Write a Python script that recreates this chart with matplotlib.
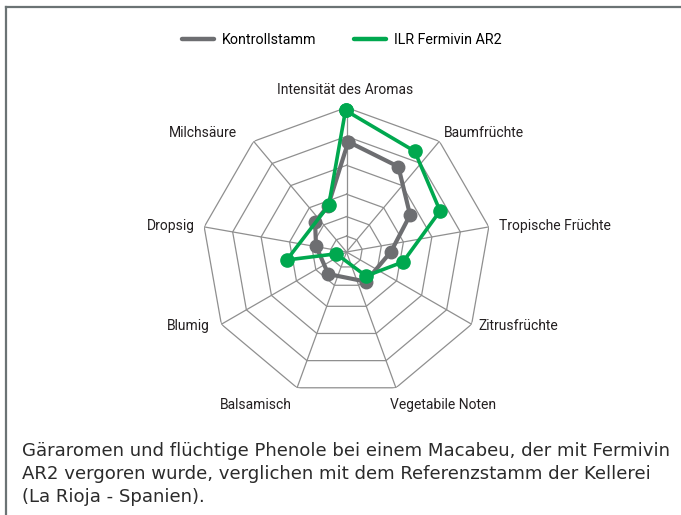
import numpy as np
import matplotlib
matplotlib.use("Agg")
import matplotlib.pyplot as plt
from matplotlib.lines import Line2D

# --- data ---
categories = ["Intensität des Aromas", "Baumfrüchte", "Tropische Früchte",
              "Zitrusfrüchte", "Vegetabile Noten", "Balsamisch", "Blumig",
              "Dropsig", "Milchsäure"]
grid_levels = [0.11, 0.245, 0.4, 0.6, 0.8, 1.0]

# the points in the source do not sit exactly on the spokes,
# so each series keeps its own angles (degrees) and radii
kontroll_angle = [89.1, 58.7, 30.2, 0.4, -57.0, -129.6, 168.9, 136.1, 111.9]
kontroll_value = [0.763, 0.691, 0.509, 0.308, 0.244, 0.198, 0.215, 0.302, 0.343]

fermivin_angle = [90.4, 55.9, 23.7, -10.0, -50.9, 190.0, 187.6, 110.8]
fermivin_value = [0.98, 0.842, 0.707, 0.397, 0.214, 0.072, 0.417, 0.346]

caption_lines = [
    "Gäraromen und flüchtige Phenole bei einem Macabeu, der mit Fermivin",
    "AR2 vergoren wurde, verglichen mit dem Referenzstamm der Kellerei",
    "(La Rioja - Spanien).",
]

GRAY = "#6d6e71"
GREEN = "#00a84f"
GRID = "#8f8f8f"
LABEL_FONT = ["Liberation Sans Narrow", "Roboto", "DejaVu Sans"]
CAPTION_FONT = ["DejaVu Sans"]

W, H = 681, 515
fig = plt.figure(figsize=(W / 100, H / 100), dpi=100)

# polar axes placed so the outer ring has radius 144.5 px around (346.5, 252)
cx, cy, rad = 346.5, 252, 144.5
ax = fig.add_axes([(cx - rad) / W, (H - cy - rad) / H, 2 * rad / W, 2 * rad / H],
                  projection="polar")
ax.set_ylim(0, 1)
ax.axis("off")

n = len(categories)
spoke = np.deg2rad(90 - 360 / n * np.arange(n))

# nonagon web
for lev in grid_levels:
    ax.plot(np.append(spoke, spoke[0]), [lev] * (n + 1), color=GRID, lw=0.9, zorder=1)
for t in spoke:
    ax.plot([t, t], [0, 1], color=GRID, lw=0.9, zorder=1)

# category labels: (dx, dy) offsets in px from the outer vertex
label_style = [
    (-1, 17, "center"), (4, 8, "left"), (10, 1, "left"), (7, -2, "left"),
    (-6, -17, "left"), (-5, -17, "right"), (-12, -2, "right"),
    (-9, 1, "right"), (-17, 8, "right"),
]
for t, lab, (dx, dy, ha) in zip(spoke, categories, label_style):
    ax.annotate(lab, xy=(t, 1.0), xytext=(dx * 0.72, dy * 0.72),
                textcoords="offset points", ha=ha, va="center",
                fontsize=10, family=LABEL_FONT, color="#231f20")

def closed(a):
    return np.append(a, a[0])

ka = np.deg2rad(kontroll_angle)
ax.plot(closed(ka), closed(kontroll_value), color=GRAY, lw=3.0,
        marker="o", ms=9, zorder=3, clip_on=False)
fa = np.deg2rad(fermivin_angle)
ax.plot(closed(fa), closed(fermivin_value), color=GREEN, lw=2.6,
        marker="o", ms=9.5, zorder=4, clip_on=False)

# legend
handles = [Line2D([], [], color=GRAY, lw=3.2, solid_capstyle="round"),
           Line2D([], [], color=GREEN, lw=3.2, solid_capstyle="round")]
fig.legend(handles, ["Kontrollstamm", "ILR Fermivin AR2"], ncol=2,
           loc="center", bbox_to_anchor=(342 / W, 1 - 40 / H), frameon=False,
           prop={"family": LABEL_FONT, "size": 10.3}, handlelength=2.2,
           handletextpad=0.6, columnspacing=2.6)

# caption
for i, line in enumerate(caption_lines):
    fig.text(22 / W, 1 - (451 + 23 * i) / H, line, ha="left", va="center",
             fontsize=13.05, family=CAPTION_FONT, color="#2b2b2b")

# frame lines (top and left only)
fig.add_artist(Line2D([6 / W, 1], [1 - 7 / H, 1 - 7 / H], color="#6b7374", lw=1.6))
fig.add_artist(Line2D([6 / W, 6 / W], [0, 1 - 7 / H], color="#6b7374", lw=1.6))

fig.savefig("out.png", dpi=100)
